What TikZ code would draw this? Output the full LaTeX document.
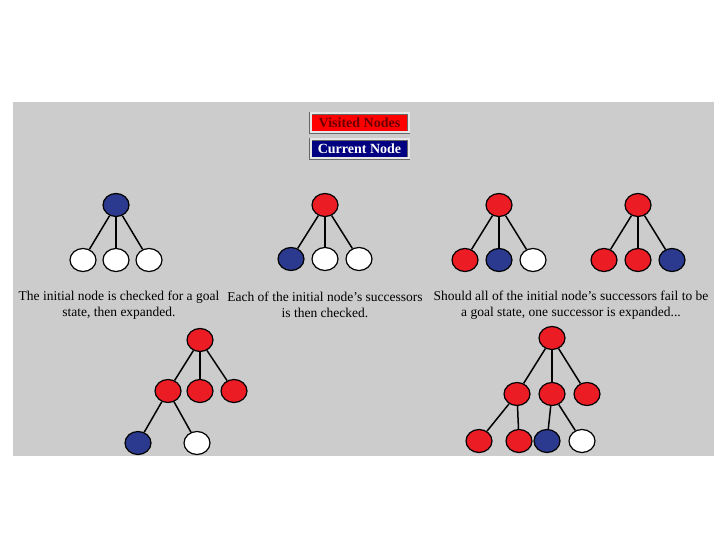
\documentclass[tikz,border=0pt]{standalone}
\usepackage{fontspec}
\setmainfont{Liberation Serif}
\usetikzlibrary{shapes.geometric}
\definecolor{bgray}{HTML}{CDCCCC}
\definecolor{visred}{HTML}{EC1C24}
\definecolor{curblue}{HTML}{2B3A8F}
\definecolor{legred}{HTML}{FF0000}
\definecolor{legblue}{HTML}{000080}
\definecolor{legtxt}{HTML}{6A0000}
\definecolor{framec}{HTML}{E6E6E6}
\tikzset{
  tn/.style={ellipse, draw=black, line width=1.2pt, minimum width=26pt, minimum height=23pt, inner sep=0pt},
  vis/.style={tn, fill=visred},
  cur/.style={tn, fill=curblue},
  new/.style={tn, fill=white},
  edgeline/.style={line width=1.5pt, black},
  captext/.style={font=\fontsize{13.5}{16}\selectfont, align=center, text=black, inner sep=0pt},
  legbox/.style={minimum width=98pt, minimum height=19pt, inner sep=0pt, draw=black!60, line width=0.6pt,
    double=framec, double distance=2pt, font=\fontsize{14}{15}\selectfont\bfseries}
}
\begin{document}
\begin{tikzpicture}[x=1pt,y=-1pt]
\useasboundingbox (0,0) rectangle (720,540);
\fill[bgray] (13,102) rectangle (714,456);
% legend
\node[legbox, fill=legred, text=legtxt] (lv) at (359.5,123) {Visited Nodes};
\node[legbox, fill=legblue, text=white] (lc) at (359.5,149) {Current Node};
% tree 1
\node[cur] (a0) at (116,205) {};
\node[new] (a1) at (83,260) {};
\node[new] (a2) at (116,260) {};
\node[new] (a3) at (149,260) {};
% tree 2
\node[vis] (b0) at (325,205) {};
\node[cur] (b1) at (291,259) {};
\node[new] (b2) at (325,259) {};
\node[new] (b3) at (359,259) {};
% tree 3
\node[vis] (c0) at (499,205) {};
\node[vis] (c1) at (465,260) {};
\node[cur] (c2) at (499,260) {};
\node[new] (c3) at (533,260) {};
% tree 4
\node[vis] (d0) at (638,205) {};
\node[vis] (d1) at (604,260) {};
\node[vis] (d2) at (638,260) {};
\node[cur] (d3) at (672,260) {};
% tree 5
\node[vis] (e0) at (200,340) {};
\node[vis] (e1) at (168,391) {};
\node[vis] (e2) at (200,391) {};
\node[vis] (e3) at (234,391) {};
\node[cur] (e4) at (138,443) {};
\node[new] (e5) at (197,443) {};
% tree 6
\node[vis] (f0) at (552,338) {};
\node[vis] (f1) at (517,394) {};
\node[vis] (f2) at (552,394) {};
\node[vis] (f3) at (587,394) {};
\node[vis] (f4) at (479,441) {};
\node[vis] (f5) at (519,441) {};
\node[cur] (f6) at (547,441) {};
\node[new] (f7) at (582,441) {};
% edges
\foreach \r/\c in {a0/a1,a0/a2,a0/a3,b0/b1,b0/b2,b0/b3,c0/c1,c0/c2,c0/c3,d0/d1,d0/d2,d0/d3,
  e0/e1,e0/e2,e0/e3,e1/e4,e1/e5,f0/f1,f0/f2,f0/f3,f1/f4,f1/f5,f2/f6,f2/f7}
  \draw[edgeline] (\r) -- (\c);
% captions
\node[captext] (t1) at (119,305) {The initial node is checked for a goal\\state, then expanded.};
\node[captext] (t2) at (325,305) {Each of the initial node's successors\\is then checked.};
\node[captext] (t3) at (571,305) {Should all of the initial node's successors fail to be\\a goal state, one successor is expanded...};
\end{tikzpicture}
\end{document}
